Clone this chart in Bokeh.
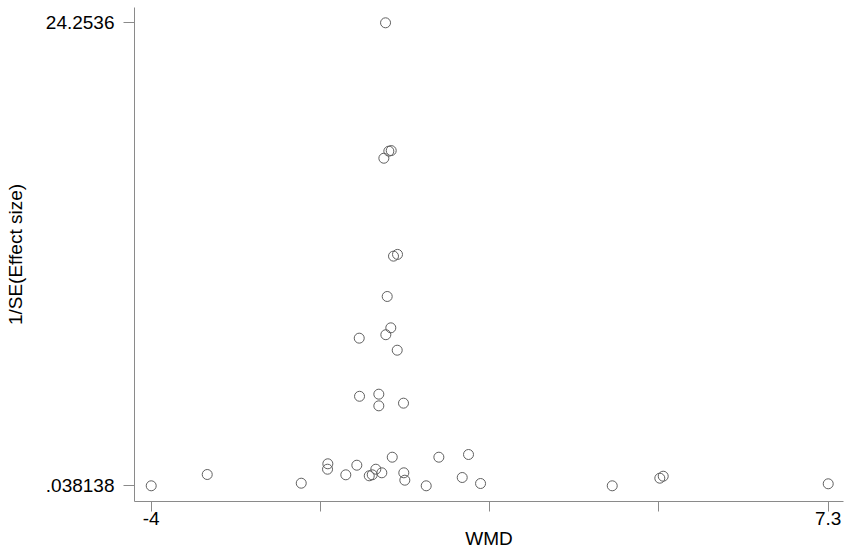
from bokeh.plotting import figure
from bokeh.models import FixedTicker, Range1d
from bokeh.embed import file_html
from bokeh.resources import INLINE

# Effect sizes (WMD) and precision (1/SE)
wmd = [-0.089, -0.117, -0.034, 0.006, 0.044, 0.111, -0.061, -0.001, -0.084, -0.528,
       0.106, -0.523, -0.201, -0.201, 0.211, -1.496, -1.052, -1.057, -0.752, -0.568,
       -0.361, -0.311, -0.251, -0.151, 0.023, 0.216, 0.233, 0.590, 0.801, 1.191,
       1.296, 1.497, -4.0, -3.065, 3.695, 4.489, 4.546, 7.3]
inv_se = [24.2536, 17.17, 17.54, 17.57, 12.05, 12.14, 9.94, 8.30, 7.94, 7.76,
          7.13, 4.72, 4.83, 4.22, 4.36, 0.174, 1.189, 0.906, 0.613, 1.115,
          0.561, 0.613, 0.906, 0.718, 1.534, 0.718, 0.331, 0.038138, 1.534, 0.472,
          1.675, 0.158, 0.038138, 0.629, 0.038138, 0.436, 0.540, 0.143]

x_ticks = [-4, -1.175, 1.65, 4.475, 7.3]
x_tick_labels = {-4: "-4", -1.175: "", 1.65: "", 4.475: "", 7.3: "7.3"}
y_ticks = [0.038138, 24.2536]
y_tick_labels = {0.038138: ".038138", 24.2536: "24.2536"}

FONT = "Liberation Sans"
AXIS_COLOR = "#8a8a8a"

p = figure(width=851, height=553, output_backend="svg", toolbar_location=None,
           x_range=Range1d(-4.279, 7.555), y_range=Range1d(-0.783, 25.054),
           min_border_left=134, min_border_right=8, min_border_top=7,
           min_border_bottom=52)
p.outline_line_color = None
p.grid.visible = False
p.background_fill_color = "white"
p.border_fill_color = "white"

p.scatter(wmd, inv_se, marker="circle", size=10, fill_color=None,
          line_color="#606060", line_width=1)

for ax in (p.xaxis[0], p.yaxis[0]):
    ax.axis_line_color = AXIS_COLOR
    ax.major_tick_line_color = AXIS_COLOR
    ax.minor_tick_line_color = None
    ax.major_tick_in = 0
    ax.major_label_text_font = FONT
    ax.major_label_text_font_size = "19px"
    ax.major_label_text_color = "black"
    ax.axis_label_text_font = FONT
    ax.axis_label_text_font_size = "19px"
    ax.axis_label_text_font_style = "normal"
    ax.axis_label_text_color = "black"

xa = p.xaxis[0]
xa.ticker = FixedTicker(ticks=x_ticks)
xa.major_label_overrides = x_tick_labels
xa.major_tick_out = 10
xa.major_label_standoff = 0
xa.axis_label = "WMD"
xa.axis_label_standoff = 0

ya = p.yaxis[0]
ya.ticker = FixedTicker(ticks=y_ticks)
ya.major_label_overrides = y_tick_labels
ya.major_tick_out = 11
ya.major_label_standoff = 9
ya.axis_label = "1/SE(Effect size)"
ya.axis_label_standoff = 17

open("out.html", "w").write(file_html(p, INLINE))
